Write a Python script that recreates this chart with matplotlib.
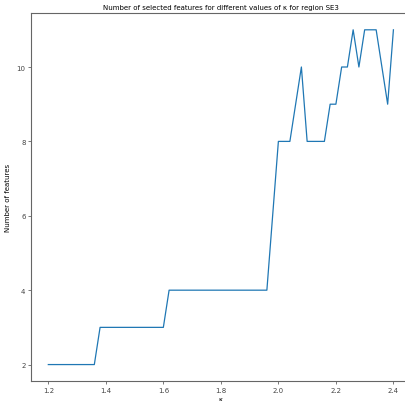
import matplotlib.pyplot as plt
import numpy as np

# kappa values (step 0.02) and number of selected features for region SE3
kappa = np.round(np.arange(1.20, 2.401, 0.02), 2)
n_features = [2, 2, 2, 2, 2, 2, 2, 2, 2,          # 1.20 - 1.36
              3, 3, 3, 3, 3, 3, 3, 3, 3, 3, 3,    # 1.38 - 1.58
              3,                                  # 1.60
              4, 4, 4, 4, 4, 4, 4, 4, 4, 4, 4,    # 1.62 - 1.82
              4, 4, 4, 4, 4, 4,                   # 1.84 - 1.94
              4, 6,                               # 1.96 - 1.98
              8, 8, 8, 9, 10,                     # 2.00 - 2.08
              8, 8, 8, 8, 9, 9, 10, 10,           # 2.10 - 2.24
              11, 10, 11, 11, 11, 10, 9, 11]      # 2.26 - 2.40

fig = plt.figure(figsize=(4.06, 4.02), dpi=100)
ax = fig.add_axes([0.0765, 0.049, 0.935, 0.916])
ax.plot(kappa, n_features, color='tab:blue', linewidth=0.9)

ax.set_title('Number of selected features for different values of κ for region SE3', fontsize=5.0, pad=3)
ax.set_xlabel('κ', fontsize=5, labelpad=2)
ax.set_ylabel('Number of features', fontsize=5, labelpad=4)
ax.set_xticks([1.2, 1.4, 1.6, 1.8, 2.0, 2.2, 2.4])
ax.set_yticks([2, 4, 6, 8, 10])
ax.tick_params(labelsize=5, length=2, width=0.5, colors='#444444', pad=2)
for s in ax.spines.values():
    s.set_color('#666666')
    s.set_linewidth(0.8)

plt.savefig('out.png', dpi=100)
